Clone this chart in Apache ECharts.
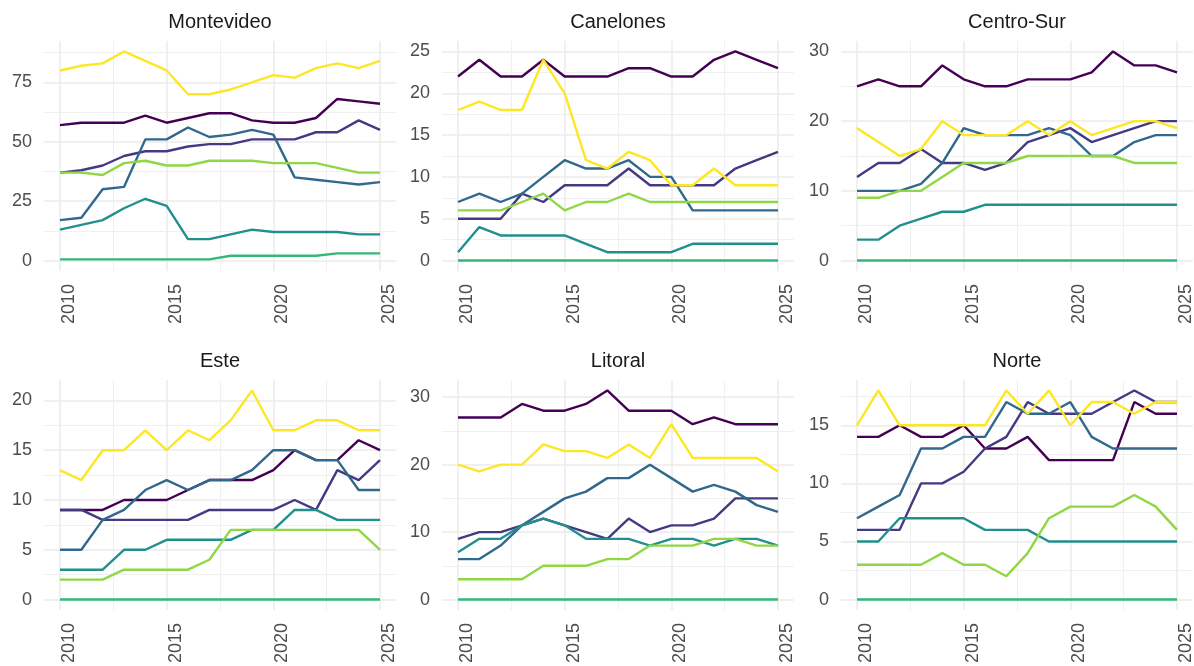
<!DOCTYPE html>
<html>
<head>
<meta charset="utf-8">
<title>Regiones</title>
<script src="https://cdn.jsdelivr.net/npm/echarts@6/dist/echarts.min.js"></script>
<style>
  html, body { margin: 0; padding: 0; background: #fff; }
  #chart { width: 1194px; height: 666px; }
</style>
</head>
<body>
<div id="chart"></div>
<script>
// years on the x axis
var years = [2010, 2011, 2012, 2013, 2014, 2015, 2016, 2017, 2018, 2019, 2020, 2021, 2022, 2023, 2024, 2025];
var xTicks = [2010, 2015, 2020, 2025];
var xMinor = [2012.5, 2017.5, 2022.5];

var regions = ['Montevideo', 'Canelones', 'Centro-Sur', 'Este', 'Litoral', 'Norte'];
var groups = ['Grupo 1', 'Grupo 2', 'Grupo 3', 'Grupo 4', 'Grupo 5', 'Grupo 6', 'Grupo 7'];

// one row per group, same order as groups
var montevideo = [
  [57, 58, 58, 58, 61, 58, 60, 62, 62, 59, 58, 58, 60, 68, 67, 66],
  [37, 38, 40, 44, 46, 46, 48, 49, 49, 51, 51, 51, 54, 54, 59, 55],
  [17, 18, 30, 31, 51, 51, 56, 52, 53, 55, 53, 35, 34, 33, 32, 33],
  [13, 15, 17, 22, 26, 23, 9, 9, 11, 13, 12, 12, 12, 12, 11, 11],
  [0.5, 0.5, 0.5, 0.5, 0.5, 0.5, 0.5, 0.5, 2, 2, 2, 2, 2, 3, 3, 3],
  [37, 37, 36, 41, 42, 40, 40, 42, 42, 42, 41, 41, 41, 39, 37, 37],
  [80, 82, 83, 88, 84, 80, 70, 70, 72, 75, 78, 77, 81, 83, 81, 84]
];
var canelones = [
  [22, 24, 22, 22, 24, 22, 22, 22, 23, 23, 22, 22, 24, 25, 24, 23],
  [5, 5, 5, 8, 7, 9, 9, 9, 11, 9, 9, 9, 9, 11, 12, 13],
  [7, 8, 7, 8, 10, 12, 11, 11, 12, 10, 10, 6, 6, 6, 6, 6],
  [1, 4, 3, 3, 3, 3, 2, 1, 1, 1, 1, 2, 2, 2, 2, 2],
  [0, 0, 0, 0, 0, 0, 0, 0, 0, 0, 0, 0, 0, 0, 0, 0],
  [6, 6, 6, 7, 8, 6, 7, 7, 8, 7, 7, 7, 7, 7, 7, 7],
  [18, 19, 18, 18, 24, 20, 12, 11, 13, 12, 9, 9, 11, 9, 9, 9]
];
var centroSur = [
  [25, 26, 25, 25, 28, 26, 25, 25, 26, 26, 26, 27, 30, 28, 28, 27],
  [12, 14, 14, 16, 14, 14, 13, 14, 17, 18, 19, 17, 18, 19, 20, 20],
  [10, 10, 10, 11, 14, 19, 18, 18, 18, 19, 18, 15, 15, 17, 18, 18],
  [3, 3, 5, 6, 7, 7, 8, 8, 8, 8, 8, 8, 8, 8, 8, 8],
  [0, 0, 0, 0, 0, 0, 0, 0, 0, 0, 0, 0, 0, 0, 0, 0],
  [9, 9, 10, 10, 12, 14, 14, 14, 15, 15, 15, 15, 15, 14, 14, 14],
  [19, 17, 15, 16, 20, 18, 18, 18, 20, 18, 20, 18, 19, 20, 20, 19]
];
var este = [
  [9, 9, 9, 10, 10, 10, 11, 12, 12, 12, 13, 15, 14, 14, 16, 15],
  [9, 9, 8, 8, 8, 8, 8, 9, 9, 9, 9, 10, 9, 13, 12, 14],
  [5, 5, 8, 9, 11, 12, 11, 12, 12, 13, 15, 15, 14, 14, 11, 11],
  [3, 3, 3, 5, 5, 6, 6, 6, 6, 7, 7, 9, 9, 8, 8, 8],
  [0, 0, 0, 0, 0, 0, 0, 0, 0, 0, 0, 0, 0, 0, 0, 0],
  [2, 2, 2, 3, 3, 3, 3, 4, 7, 7, 7, 7, 7, 7, 7, 5],
  [13, 12, 15, 15, 17, 15, 17, 16, 18, 21, 17, 17, 18, 18, 17, 17]
];
var litoral = [
  [27, 27, 27, 29, 28, 28, 29, 31, 28, 28, 28, 26, 27, 26, 26, 26],
  [9, 10, 10, 11, 12, 11, 10, 9, 12, 10, 11, 11, 12, 15, 15, 15],
  [6, 6, 8, 11, 13, 15, 16, 18, 18, 20, 18, 16, 17, 16, 14, 13],
  [7, 9, 9, 11, 12, 11, 9, 9, 9, 8, 9, 9, 8, 9, 9, 8],
  [0, 0, 0, 0, 0, 0, 0, 0, 0, 0, 0, 0, 0, 0, 0, 0],
  [3, 3, 3, 3, 5, 5, 5, 6, 6, 8, 8, 8, 9, 9, 8, 8],
  [20, 19, 20, 20, 23, 22, 22, 21, 23, 21, 26, 21, 21, 21, 21, 19]
];
var norte = [
  [14, 14, 15, 14, 14, 15, 13, 13, 14, 12, 12, 12, 12, 17, 16, 16],
  [6, 6, 6, 10, 10, 11, 13, 14, 17, 16, 16, 16, 17, 18, 17, 17],
  [7, 8, 9, 13, 13, 14, 14, 17, 16, 16, 17, 14, 13, 13, 13, 13],
  [5, 5, 7, 7, 7, 7, 6, 6, 6, 5, 5, 5, 5, 5, 5, 5],
  [0, 0, 0, 0, 0, 0, 0, 0, 0, 0, 0, 0, 0, 0, 0, 0],
  [3, 3, 3, 3, 4, 3, 3, 2, 4, 7, 8, 8, 8, 9, 8, 6],
  [15, 18, 15, 15, 15, 15, 15, 18, 16, 18, 15, 17, 17, 16, 17, 17]
];

var yTicks = [
  [0, 25, 50, 75],
  [0, 5, 10, 15, 20, 25],
  [0, 10, 20, 30],
  [0, 5, 10, 15, 20],
  [0, 10, 20, 30],
  [0, 5, 10, 15]
];
var yMinor = [
  [12.5, 37.5, 62.5, 87.5],
  [2.5, 7.5, 12.5, 17.5, 22.5],
  [5, 15, 25],
  [2.5, 7.5, 12.5, 17.5],
  [5, 15, 25],
  [2.5, 7.5, 12.5, 17.5]
];

var panels = [montevideo, canelones, centroSur, este, litoral, norte];

// viridis, 7 steps
var colors = ['#440154', '#443A83', '#31688E', '#21908C', '#35B779', '#8FD744', '#FDE725'];
var font = '"Liberation Sans", Arial, sans-serif';

var lefts = [44, 442, 841];
var tops = [41, 380];
var gw = 352, gh = 230;

var grids = [], xAxes = [], yAxes = [], series = [], titles = [];

panels.forEach(function (rows, p) {
  var col = p % 3, row = Math.floor(p / 3);
  var ymax = 0;
  rows.forEach(function (r) { ymax = Math.max(ymax, Math.max.apply(null, r)); });
  var pad = ymax * 0.05;
  var xpad = (years[years.length - 1] - years[0]) * 0.05;

  grids.push({ left: lefts[col], top: tops[row], width: gw, height: gh, outerBoundsMode: 'none' });

  titles.push({
    text: regions[p],
    left: lefts[col] + gw / 2,
    top: row === 0 ? 12 : 351,
    textAlign: 'center',
    padding: 0,
    textStyle: { fontFamily: font, fontSize: 20, fontWeight: 'normal', color: '#1A1A1A' }
  });

  var xBase = {
    type: 'value', gridIndex: p,
    min: years[0] - xpad, max: years[years.length - 1] + xpad,
    axisLine: { show: false }
  };
  xAxes.push(Object.assign({}, xBase, {
    axisTick: { show: false, customValues: xTicks },
    axisLabel: {
      customValues: xTicks, rotate: 90, margin: 13,
      align: 'right', verticalAlign: 'top',
      formatter: function (v) { return String(v); },
      fontFamily: font, fontSize: 18, color: '#4D4D4D'
    },
    splitLine: { show: true, lineStyle: { color: '#EBEBEB', width: 1.5 } }
  }));
  xAxes.push(Object.assign({}, xBase, {
    axisTick: { show: false, customValues: xMinor },
    axisLabel: { show: false, customValues: xMinor },
    splitLine: { show: true, lineStyle: { color: '#F0F0F0', width: 1 } }
  }));

  var yBase = {
    type: 'value', gridIndex: p,
    min: -pad, max: ymax + pad,
    axisLine: { show: false }
  };
  yAxes.push(Object.assign({}, yBase, {
    position: 'left',
    axisTick: { show: false, customValues: yTicks[p] },
    axisLabel: {
      customValues: yTicks[p], margin: 12,
      fontFamily: font, fontSize: 18, color: '#4D4D4D'
    },
    splitLine: { show: true, lineStyle: { color: '#EBEBEB', width: 1.5 } }
  }));
  yAxes.push(Object.assign({}, yBase, {
    position: 'left',
    axisTick: { show: false, customValues: yMinor[p] },
    axisLabel: { show: false, customValues: yMinor[p] },
    splitLine: { show: true, lineStyle: { color: '#F0F0F0', width: 1 } }
  }));

  rows.forEach(function (vals, g) {
    series.push({
      name: groups[g],
      type: 'line',
      xAxisIndex: p * 2,
      yAxisIndex: p * 2,
      data: years.map(function (y, i) { return [y, vals[i]]; }),
      showSymbol: false,
      symbol: 'none',
      lineStyle: { color: colors[g], width: 2.4 },
      itemStyle: { color: colors[g] },
      z: 3 + g * 0.01
    });
  });
});

var myChart = echarts.init(document.getElementById('chart'), null, { renderer: 'canvas' });
myChart.setOption({
  backgroundColor: '#ffffff',
  animation: false,
  title: titles,
  grid: grids,
  xAxis: xAxes,
  yAxis: yAxes,
  series: series
});
</script>
</body>
</html>
